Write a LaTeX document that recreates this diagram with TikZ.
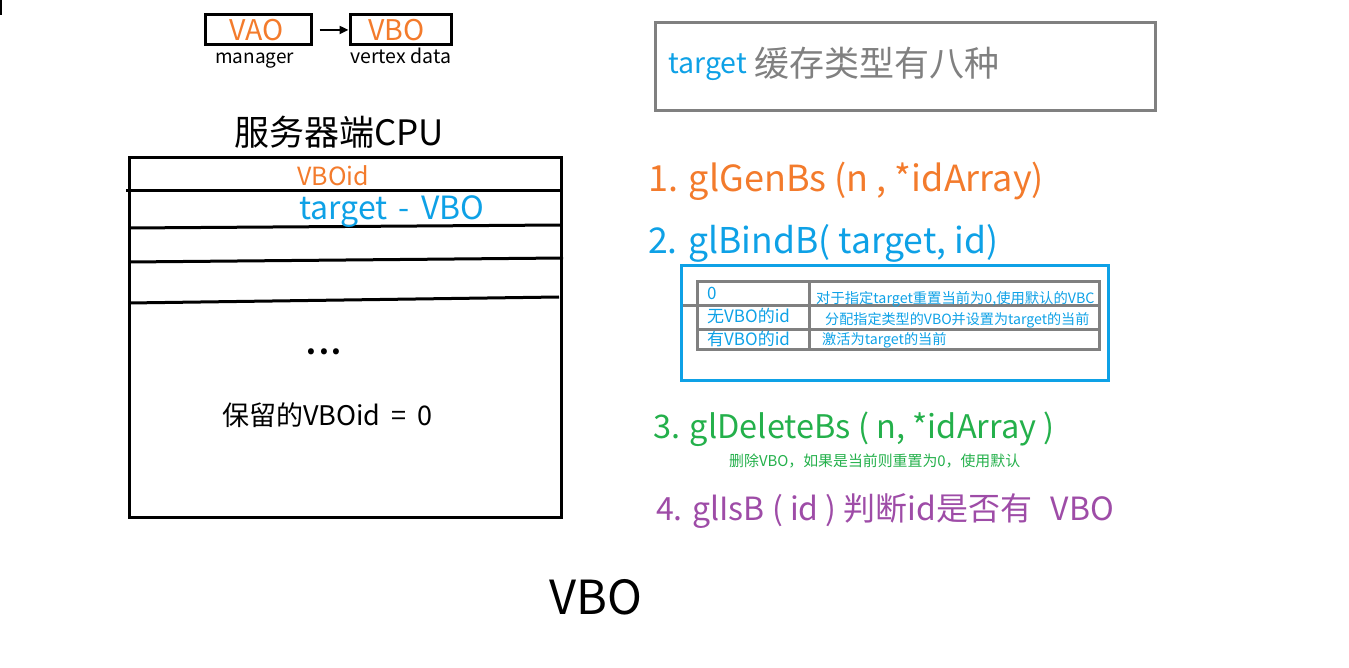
\documentclass[tikz,border=0pt]{standalone}
\usepackage{fontspec}
\setmainfont{Noto Sans CJK SC}
\usetikzlibrary{arrows.meta}
\definecolor{cor}{HTML}{F37B2C}
\definecolor{cbl}{HTML}{0EA1E6}
\definecolor{cgr}{HTML}{24B04B}
\definecolor{cpu}{HTML}{9E4CA7}
\definecolor{cgy}{HTML}{808080}
\newcommand{\fsz}[1]{\fontsize{#1}{#1}\selectfont}
\begin{document}
\begin{tikzpicture}[x=1pt,y=-1pt,
  txt/.style={inner sep=0pt,anchor=base west},
  blk/.style={draw=black,line width=3pt},
  gry/.style={draw=cgy,line width=3pt},
  bluebox/.style={draw=cbl,line width=3pt}]
\useasboundingbox (0,0) rectangle (1349,668);
\draw[line width=2pt] (1,0) -- (1,15);
% top legend
\node[blk,minimum width=106pt,minimum height=30pt,inner sep=0pt] (vao) at (258,30) {};
\node[blk,minimum width=101pt,minimum height=30pt,inner sep=0pt] (vbo) at (400.5,30) {};
\node[txt,text=cor] (vaot) at (229,41) {\fsz{28.5}VAO};
\node[txt,text=cor] (vbot) at (368,41) {\fsz{28.5}VBO};
\draw[line width=2.4pt,-{Triangle[length=9pt,width=8pt]}] (vao.east)++(7,0) -- (vbo.west);
\node[txt] (mgr) at (215,64) {\fsz{19}manager};
\node[txt] (vd) at (350,64) {\fsz{19.5}vertex data};
% CPU block
\node[txt] (cpu) at (234,146) {\fsz{35}服务器端CPU};
\draw[blk] (129,158) -- (561,158) -- (561,517) -- (129,517) -- cycle;
\draw[line width=3pt] (126,191) -- (561,191);
\draw[line width=3pt] (129,228) -- (561,225);
\draw[line width=3pt] (129,262) -- (563,258);
\draw[line width=3pt] (129,303) -- (559,297);
\node[txt,text=cor] (vboid) at (297,186) {\fsz{25}VBOid};
\node[txt,text=cbl] (tv) at (299,220) {\fsz{32}target\hspace{0.35em}-\hspace{0.35em}VBO};
\node[txt] (dots) at (306,354) {\fsz{28}\bfseries .\hspace{3pt}.\hspace{3pt}.};
\node[txt] (res) at (222,425) {\fsz{27}保留的VBOid\hspace{0.4em}=\hspace{0.4em}0};
% target box
\draw[gry] (655,23) rectangle (1155,111);
\node[txt,text=cbl] (tg) at (668,74) {\fsz{28.5}target};
\node[txt,text=cgy] (tgc) at (754,77) {\fsz{35}缓存类型有八种};
% functions
\node[txt,text=cor] (f1) at (648,192) {\fsz{36}1. glGenBs (n , *idArray)};
\node[txt,text=cbl] (f2) at (648,254) {\fsz{35.5}2. glBindB( target, id)};
\draw[bluebox] (681,266) rectangle (1108,380);
% table
\draw[gry] (697,282) rectangle (809,349);
\draw[gry] (809,282) -- (1099,282) -- (1099,349) -- (809,349);
\draw[gry] (683,306) -- (1100,306);
\draw[gry] (697,329) -- (1101,329);
\node[txt,text=cbl] (r1l) at (707,300) {\fsz{17}0};
\node[txt,text=cbl] (r2l) at (707,323) {\fsz{17}无VBO的id};
\node[txt,text=cbl] (r3l) at (707,345) {\fsz{17}有VBO的id};
\node[txt,text=cbl] (r1r) at (816,303) {\fsz{14.3}对于指定target重置当前为0,使用默认的VBC};
\node[txt,text=cbl] (r2r) at (825,324) {\fsz{14.1}分配指定类型的VBO并设置为target的当前};
\node[txt,text=cbl] (r3r) at (822,344) {\fsz{14.2}激活为target的当前};
\node[txt,text=cgr] (f3) at (653,438) {\fsz{32.5}3. glDeleteBs ( n, *idArray )};
\node[txt,text=cgr] (f3d) at (729,466) {\fsz{14.9}删除VBO，如果是当前则重置为0，使用默认};
\node[txt,text=cpu] (f4) at (656,520) {\fsz{32}4. glIsB ( id ) 判断id是否有\hspace{0.35em} VBO};
\node[txt] (title) at (549,614) {\fsz{47}VBO};
\end{tikzpicture}
\end{document}
